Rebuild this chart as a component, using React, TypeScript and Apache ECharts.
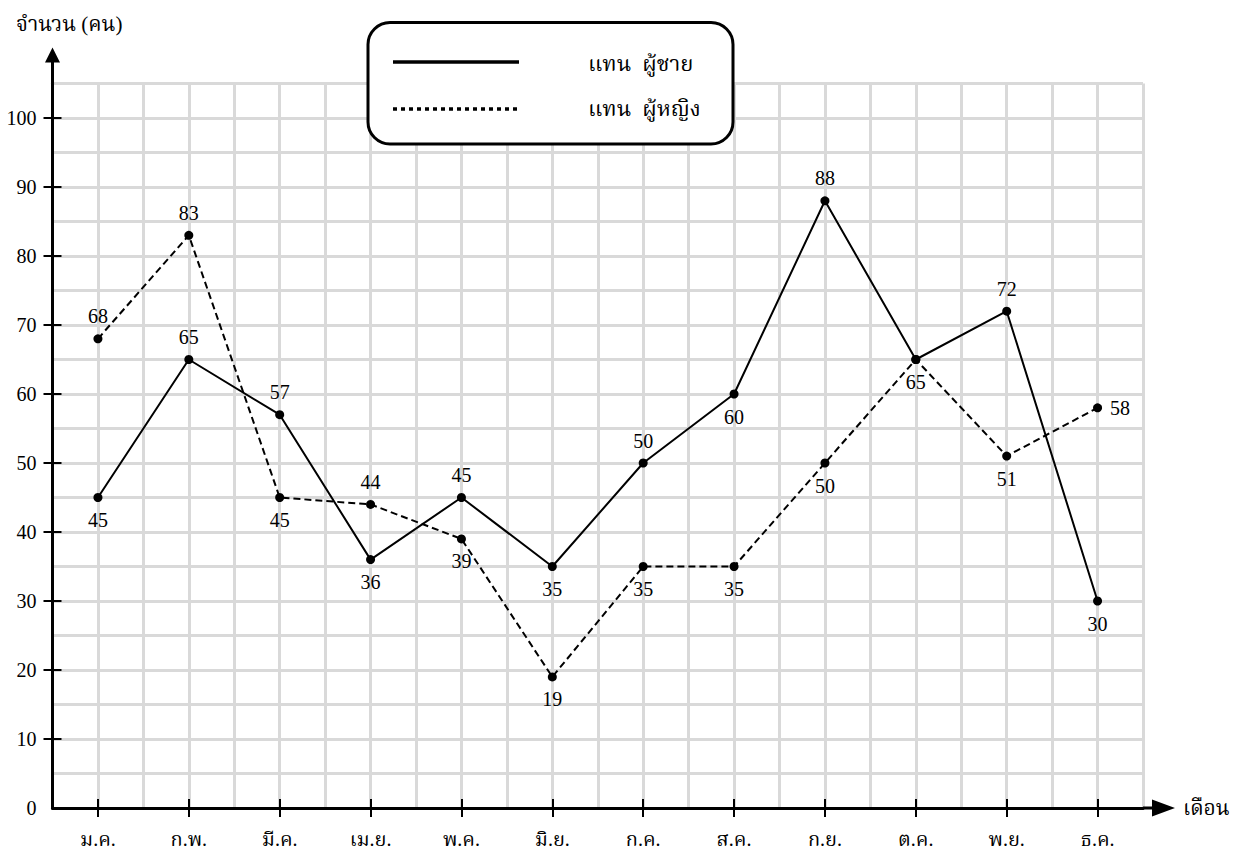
import React, { useEffect, useRef } from 'react';
import * as echarts from 'echarts';

// ---- data ----
const months = ['ม.ค.', 'ก.พ.', 'มี.ค.', 'เม.ย.', 'พ.ค.', 'มิ.ย.', 'ก.ค.', 'ส.ค.', 'ก.ย.', 'ต.ค.', 'พ.ย.', 'ธ.ค.'];
const maleValues = [45, 65, 57, 36, 45, 35, 50, 60, 88, 65, 72, 30];
const femaleValues = [68, 83, 45, 44, 39, 19, 35, 35, 50, 65, 51, 58];
const yTickValues = ['0', '5', '10', '15', '20', '25', '30', '35', '40', '45', '50', '55', '60', '65', '70', '75', '80', '85', '90', '95', '100', '105'];
const seriesNames = ['ผู้ชาย', 'ผู้หญิง'];
const legendPrefix = 'แทน';
const yAxisTitle = 'จำนวน (คน)';
const xAxisTitle = 'เดือน';

// label placement (null = hidden)
const maleLabelSide = ['bottom', 'top', 'top', 'bottom', 'top', 'bottom', 'top', 'bottom', 'top', 'bottom', 'top', 'bottom'];
const femaleLabelSide = ['top', 'top', 'bottom', 'top', 'bottom', 'bottom', 'bottom', 'bottom', 'bottom', null, 'bottom', 'right'];

// ---- layout ----
const W = 1249;
const H = 852;
const GRID = { left: 52.5, right: 106, top: 83.5, bottom: 44 };
const gridW = W - GRID.left - GRID.right;
const gridH = H - GRID.top - GRID.bottom;
const FONT = "'Liberation Serif', 'Noto Serif Thai', 'Norasi', 'Tlwg Typo', 'Times New Roman', serif";
const GRID_COLOR = '#d9d9d9';

const ARROW_Y = 'path://M7.5,0L15,15L9,15L9,36L6,36L6,15L0,15Z';
const ARROW_X = 'path://M8.5,0L17,23L10,23L10,32L7,32L7,23L0,23Z';

const yLabelFilter = (i: number) => i % 2 === 0 && i <= 20;
const yTickFilter = (i: number) => i % 2 === 0 && i > 0 && i <= 20;

function buildSeriesData(values: number[], sides: (string | null)[]) {
  return values.map((v, i) => ({
    value: v,
    label: sides[i] ? { show: true, position: sides[i] } : { show: false },
  }));
}

export default function App() {
  const ref = useRef<HTMLDivElement>(null);

  useEffect(() => {
    if (!ref.current) return;
    const chart = echarts.init(ref.current, undefined, { renderer: 'svg' });
    const labelStyle = { fontSize: 20, color: '#000', fontFamily: FONT, distance: 8 };
    const option: any = {
      animation: false,
      backgroundColor: '#fff',
      textStyle: { fontFamily: FONT },
      title: {
        text: yAxisTitle,
        left: 11,
        top: 8,
        textStyle: { fontSize: 21, fontWeight: 'normal', color: '#000', fontFamily: FONT },
      },
      grid: { left: GRID.left, right: GRID.right, top: GRID.top, bottom: GRID.bottom, containLabel: false },
      xAxis: [
        {
          type: 'category',
          data: months,
          boundaryGap: true,
          position: 'bottom',
          offset: 9,
          axisLine: { show: false, onZero: false },
          axisTick: { show: true, alignWithLabel: true, inside: true, length: 18, lineStyle: { color: '#000', width: 2 } },
          axisLabel: { interval: 0, margin: 12, fontSize: 20, color: '#000', fontFamily: FONT },
          splitLine: { show: false },
        },
        {
          type: 'value',
          min: -0.5,
          max: 11.5,
          interval: 0.5,
          position: 'top',
          offset: -gridH,
          axisLine: {
            show: true,
            onZero: false,
            lineStyle: { color: '#000', width: 3 },
            symbol: ['none', ARROW_X],
            symbolSize: [17, 32],
            symbolOffset: [0, 16],
          },
          axisTick: { show: false },
          axisLabel: { show: false },
          splitLine: { show: true, showMinLine: false, lineStyle: { color: GRID_COLOR, width: 3 } },
          name: xAxisTitle,
          nameLocation: 'end',
          nameGap: 40,
          nameTextStyle: { fontSize: 21, color: '#000', fontFamily: FONT, verticalAlign: 'middle', align: 'left' },
        },
      ],
      yAxis: [
        {
          type: 'category',
          data: yTickValues,
          boundaryGap: false,
          position: 'left',
          offset: 9,
          axisLine: { show: false, onZero: false },
          axisTick: { show: true, inside: true, length: 18, interval: (i: number) => yTickFilter(i), lineStyle: { color: '#000', width: 2 } },
          axisLabel: { interval: (i: number) => yLabelFilter(i), margin: 7, fontSize: 20, color: '#000', fontFamily: FONT },
          splitLine: { show: false },
        },
        {
          type: 'value',
          min: 0,
          max: 105,
          interval: 5,
          position: 'right',
          offset: -gridW,
          axisLine: {
            show: true,
            onZero: false,
            lineStyle: { color: '#000', width: 3 },
            symbol: ['none', ARROW_Y],
            symbolSize: [15, 36],
            symbolOffset: [0, 18],
          },
          axisTick: { show: false },
          axisLabel: { show: false },
          splitLine: { show: true, showMinLine: false, lineStyle: { color: GRID_COLOR, width: 3 } },
        },
      ],
      series: [
        {
          name: seriesNames[0],
          type: 'line',
          xAxisIndex: 0,
          yAxisIndex: 1,
          data: buildSeriesData(maleValues, maleLabelSide),
          symbol: 'circle',
          symbolSize: 9,
          lineStyle: { color: '#000', width: 2 },
          itemStyle: { color: '#000' },
          label: labelStyle,
          z: 4,
        },
        {
          name: seriesNames[1],
          type: 'line',
          xAxisIndex: 0,
          yAxisIndex: 1,
          data: buildSeriesData(femaleValues, femaleLabelSide),
          symbol: 'circle',
          symbolSize: 9,
          lineStyle: { color: '#000', width: 2, type: [7, 4] },
          itemStyle: { color: '#000' },
          label: labelStyle,
          z: 3,
        },
      ],
      graphic: [
        {
          type: 'rect',
          z: 100,
          shape: { x: 368, y: 22.5, width: 365, height: 121.5, r: 22 },
          style: { fill: '#fff', stroke: '#000', lineWidth: 3 },
        },
        {
          type: 'line',
          z: 101,
          shape: { x1: 393, y1: 62, x2: 519, y2: 62 },
          style: { stroke: '#000', lineWidth: 3.5 },
        },
        {
          type: 'line',
          z: 101,
          shape: { x1: 393, y1: 109, x2: 519, y2: 109 },
          style: { stroke: '#000', lineWidth: 3.5, lineDash: [4, 4] },
        },
        {
          type: 'text',
          z: 101,
          x: 588,
          y: 63,
          style: { text: legendPrefix + '  ' + seriesNames[0], fontSize: 22, fontFamily: FONT, fill: '#000', verticalAlign: 'middle' },
        },
        {
          type: 'text',
          z: 101,
          x: 588,
          y: 108,
          style: { text: legendPrefix + '  ' + seriesNames[1], fontSize: 22, fontFamily: FONT, fill: '#000', verticalAlign: 'middle' },
        },
      ],
    };
    chart.setOption(option);
    return () => chart.dispose();
  }, []);

  return <div ref={ref} style={{ position: 'absolute', left: 0, top: 0, width: W, height: H }} />;
}
